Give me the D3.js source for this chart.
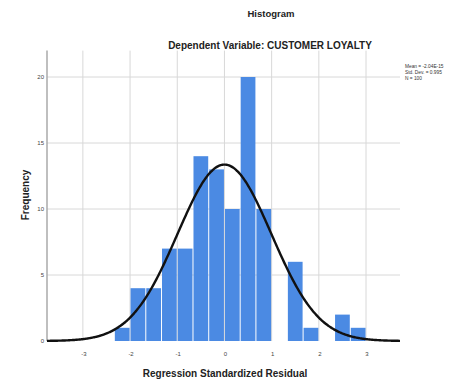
<!DOCTYPE html>
<html><head><meta charset="utf-8">
<script src="https://cdn.jsdelivr.net/npm/d3@7"></script>
<style>body{margin:0;background:#fff}svg{display:block}</style>
</head><body>
<svg id="c" width="461" height="383"></svg>
<script>
const binStarts = [-7/3,-2,-5/3,-4/3,-1,-2/3,-1/3,0,1/3,2/3,1,4/3,5/3,2,7/3,8/3];
const binWidth = 1/3;
const counts = [1,4,4,7,7,14,13,10,20,10,0,6,1,0,2,1];
const xTicks = [-3,-2,-1,0,1,2,3];
const yTicks = [0,5,10,15,20];
const stats = {mean:0, sd:0.995, n:100};
const legendLines = ["Mean = -2.04E-15","Std. Dev. = 0.995","N = 100"];

const svg = d3.select("#c");
const font = "Liberation Sans, Arial, sans-serif";
const x = d3.scaleLinear().domain([-3.76,3.72]).range([47,400]);
const y = d3.scaleLinear().domain([0,22]).range([341,50.6]);

// gridlines
svg.append("g").selectAll("line").data(xTicks).join("line")
  .attr("x1",d=>x(d)).attr("x2",d=>x(d)).attr("y1",y(22)).attr("y2",y(0))
  .attr("stroke","#d8d8d8").attr("stroke-width",1);
svg.append("g").selectAll("line").data(yTicks.slice(1)).join("line")
  .attr("x1",x(-3.76)).attr("x2",x(3.72)).attr("y1",d=>y(d)).attr("y2",d=>y(d))
  .attr("stroke","#d8d8d8").attr("stroke-width",1);

// bars
svg.append("g").selectAll("rect").data(counts.map((c,i)=>({c,s:binStarts[i]}))).join("rect")
  .attr("x",d=>x(d.s)+0.5).attr("width",d=>x(d.s+binWidth)-x(d.s)-1)
  .attr("y",d=>y(d.c)).attr("height",d=>y(0)-y(d.c))
  .attr("fill","#4b8ae3");

// y axis line
svg.append("line").attr("x1",47).attr("x2",47).attr("y1",y(22)).attr("y2",y(0))
  .attr("stroke","#aaa").attr("stroke-width",1.5);

// normal curve
const pdf = v => stats.n*binWidth*Math.exp(-0.5*((v-stats.mean)/stats.sd)**2)/(stats.sd*Math.sqrt(2*Math.PI));
const xs = d3.range(-3.76,3.7201,0.02);
svg.append("path").datum(xs)
  .attr("d", d3.line().x(d=>x(d)).y(d=>y(pdf(d))).curve(d3.curveBasis))
  .attr("fill","none").attr("stroke","#111").attr("stroke-width",2.4);

// tick labels
svg.append("g").selectAll("text").data(yTicks).join("text")
  .attr("x",44).attr("y",d=>y(d)+2).attr("text-anchor","end")
  .attr("font-family",font).attr("font-size",6).attr("fill","#444").text(d=>d);
svg.append("g").selectAll("text").data(xTicks).join("text")
  .attr("x",d=>x(d)+1).attr("y",356).attr("text-anchor","middle")
  .attr("font-family",font).attr("font-size",6).attr("fill","#444").text(d=>d);

// titles
svg.append("text").attr("x",271).attr("y",17).attr("text-anchor","middle")
  .attr("font-family",font).attr("font-size",9.5).attr("font-weight","bold").attr("fill","#222").text("Histogram");
svg.append("text").attr("x",270).attr("y",48.5).attr("text-anchor","middle")
  .attr("font-family",font).attr("font-size",10).attr("font-weight","bold").attr("fill","#222")
  .text("Dependent Variable: CUSTOMER LOYALTY");
svg.append("text").attr("x",225).attr("y",377).attr("text-anchor","middle")
  .attr("font-family",font).attr("font-size",10).attr("font-weight","bold").attr("fill","#222")
  .text("Regression Standardized Residual");
svg.append("text").attr("transform","translate(29,195) rotate(-90)").attr("text-anchor","middle")
  .attr("font-family",font).attr("font-size",10).attr("font-weight","bold").attr("fill","#222")
  .text("Frequency");

// legend
svg.append("g").selectAll("text").data(legendLines).join("text")
  .attr("x",405).attr("y",(d,i)=>68+i*6)
  .attr("font-family",font).attr("font-size",4.8).attr("fill","#333").text(d=>d);
</script>
</body></html>
